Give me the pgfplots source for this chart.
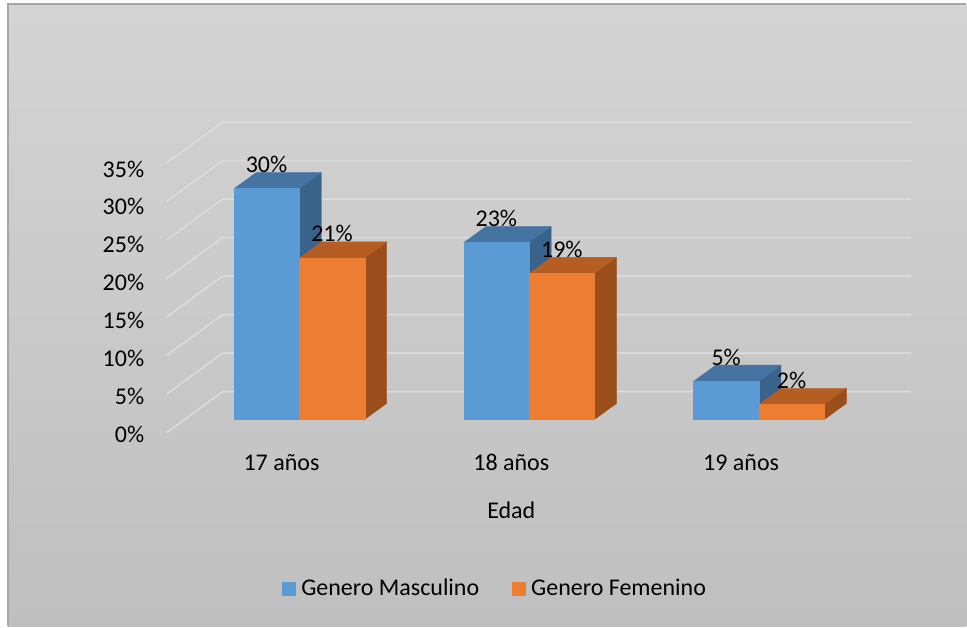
\documentclass[border=0pt]{standalone}
\usepackage{pgfplots}
\pgfplotsset{compat=1.18}
\usepackage{fontspec}
\setmainfont{Carlito}
\definecolor{bluefront}{HTML}{5B9BD5}
\definecolor{bluetop}{HTML}{4574A2}
\definecolor{blueside}{HTML}{3A638C}
\definecolor{orangefront}{HTML}{ED7D31}
\definecolor{orangetop}{HTML}{B55D22}
\definecolor{orangeside}{HTML}{994E1C}
\definecolor{bgtop}{HTML}{D4D4D4}
\definecolor{bgbot}{HTML}{BFBFBF}
\definecolor{gridc}{HTML}{DCDCDC}
\definecolor{framec}{HTML}{A6A6A6}

% bar: #1 category position, #2 series (0/1), #3 value (%), #4 colour prefix
\newcommand\drawbar[4]{%
  \pgfmathsetmacro\xl{#1-0.2848+#2*0.2848+0.0774}%
  \pgfmathsetmacro\xr{\xl+0.2848}%
  \pgfmathsetmacro\xc{\xl+0.1424}%
  \pgfmathsetmacro\yb{1.686}%
  \pgfmathsetmacro\yt{#3+1.686}%
  \pgfmathsetmacro\xlb{\xl+0.0957}%
  \pgfmathsetmacro\xrb{\xr+0.0957}%
  \pgfmathsetmacro\ybb{\yb+2.075}%
  \pgfmathsetmacro\ytb{\yt+2.075}%
  \edef\tmp{%
    \noexpand\addplot[fill=#4side, draw=#4side, line width=0.2pt, forget plot] coordinates {(\xr,\yb) (\xr,\yt) (\xrb,\ytb) (\xrb,\ybb)};
    \noexpand\addplot[fill=#4top, draw=#4top, line width=0.2pt, forget plot] coordinates {(\xl,\yt) (\xr,\yt) (\xrb,\ytb) (\xlb,\ytb)};
    \noexpand\addplot[fill=#4front, draw=#4front, line width=0.2pt, forget plot] coordinates {(\xl,\yb) (\xr,\yb) (\xr,\yt) (\xl,\yt)};
  }\tmp
  \edef\tmpb{%
    \noexpand\addplot[draw=none, mark=none, forget plot, nodes near coords, point meta=explicit symbolic,
      nodes near coords style={anchor=base, inner sep=0pt, text=black}] coordinates {(\xc,\ytb) [#3\%]};
  }\tmpb
}
% gridline at level #1 (%)
\newcommand\gridline[1]{%
  \pgfmathsetmacro\ga{#1}%
  \pgfmathsetmacro\gb{#1+5.318}%
  \edef\tmp{%
    \noexpand\addplot[draw=gridc, line width=0.75pt, forget plot] coordinates {(-0.5,\ga) (-0.2565,\gb) (2.7405,\gb)};
  }\tmp
}

\begin{document}
\begin{tikzpicture}[font=\fontsize{12}{14.4}\selectfont]
\begin{axis}[
  set layers,
  scale only axis,
  width=345pt, height=134.925pt,
  xmin=-0.5, xmax=2.5, ymin=0, ymax=35,
  clip=false,
  axis line style={draw=none},
  major tick length=0pt,
  tick style={draw=none},
  xtick={0,1,2},
  xticklabels={17 años,18 años,19 años},
  ytick={0,5,10,15,20,25,30,35},
  yticklabels={0\%,5\%,10\%,15\%,20\%,25\%,30\%,35\%},
  xticklabel style={anchor=center, yshift=-15pt},
  yticklabel style={anchor=east, inner sep=0pt, xshift=-11pt, yshift={-1pt-0.28pt*\ticknum}},
  xlabel={Edad},
  xlabel style={at={(axis cs:1,-10.12)}, anchor=center},
  legend columns=2,
  legend style={at={(axis cs:0.936,-20.23)}, anchor=center, draw=none, fill=none,
    /tikz/every even column/.append style={column sep=14pt},
    nodes={inner sep=2.5pt}},
  legend image code/.code={\fill[#1] (0pt,-3.5pt) rectangle (7pt,3.5pt);},
]
% background
\begin{pgfonlayer}{axis background}
\fill[white] (axis cs:-1.2248,56.16) rectangle (axis cs:2.9796,-25.16);
\shade[top color=bgtop, bottom color=bgbot] (axis cs:-1.19,55.64) rectangle (axis cs:2.9796,-25.16);
\draw[framec, line width=0.75pt] (axis cs:-1.19,-25.16) -- (axis cs:-1.19,55.64) -- (axis cs:2.9796,55.64);
\end{pgfonlayer}

\gridline{0}\gridline{5}\gridline{10}\gridline{15}\gridline{20}\gridline{25}\gridline{30}\gridline{35}

\drawbar{0}{0}{30}{blue}
\drawbar{0}{1}{21}{orange}
\drawbar{1}{0}{23}{blue}
\drawbar{1}{1}{19}{orange}
\drawbar{2}{0}{5}{blue}
\drawbar{2}{1}{2}{orange}

\addlegendimage{fill=bluefront, draw=none}
\addlegendentry{Genero Masculino}
\addlegendimage{fill=orangefront, draw=none}
\addlegendentry{Genero Femenino}
\end{axis}
\end{tikzpicture}
\end{document}
